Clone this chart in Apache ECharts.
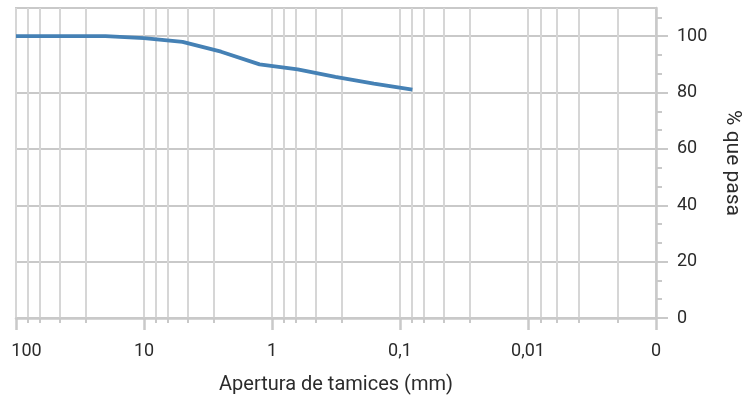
<!DOCTYPE html>
<html>
<head>
<meta charset="utf-8">
<script src="https://cdn.jsdelivr.net/npm/echarts@6/dist/echarts.min.js"></script>
<style>
html,body{margin:0;padding:0;background:#fff;}
#chart{width:742px;height:398px;}
</style>
</head>
<body>
<div id="chart"></div>
<script>
// Sieve sizes (mm) and percent passing
var sieveSizes = [100, 80, 40, 20, 10, 5, 2.5, 1.25, 0.63, 0.32, 0.16, 0.08];
var percentPassing = [100, 100, 100, 100, 99.3, 98, 94.5, 90, 88.2, 85.6, 83.2, 81];

// Major x tick values (mm) and their labels
var xTickValues = [100, 10, 1, 0.1, 0.01, 0.001];
var xTickLabels = ["100", "10", "1", "0,1", "0,01", "0"];

// Minor x grid/tick values (mm)
var xMinorValues = [80.6, 64.9, 45.3, 28.4, 8.06, 6.49, 4.53, 2.84, 0.806, 0.649, 0.453, 0.284,
                    0.0806, 0.0649, 0.0453, 0.0284, 0.008, 0.006, 0.004, 0.002];

// Y ticks
var yMajorValues = [0, 20, 40, 60, 80, 100];
var yMinorValues = [6.67, 13.33, 26.67, 33.33, 46.67, 53.33, 66.67, 73.33, 86.67, 93.33, 106.67];

var xAxisName = "Apertura de tamices (mm)";
var yAxisName = "% que pasa";

function lg(v) { return Math.log10(v); }

var labelMap = {};
xTickValues.forEach(function (v, i) { labelMap[Math.round(lg(v))] = xTickLabels[i]; });
var firstKey = Math.round(lg(xTickValues[0]));

var font = "Roboto";
var textColor = "#2b2b2b";
var gridColor = "#c9c9c9";
var vColor = "#d6d6d6";

var chart = echarts.init(document.getElementById("chart"));
chart.setOption({
  animation: false,
  grid: { left: 16, right: 86, top: 8, bottom: 80, show: true, borderColor: gridColor, borderWidth: 2,
          backgroundColor: "transparent", containLabel: false, outerBoundsMode: "none" },
  xAxis: [
    {
      type: "value", min: lg(xTickValues[xTickValues.length - 1]), max: lg(xTickValues[0]), interval: 1, inverse: true,
      position: "bottom",
      axisLine: { show: true, onZero: false, lineStyle: { color: gridColor, width: 2.5 } },
      axisTick: { show: true, length: 12, lineStyle: { color: gridColor, width: 2.5 } },
      axisLabel: {
        margin: 24, fontSize: 18, color: textColor, fontFamily: font, hideOverlap: false,
        formatter: function (v) {
          var k = Math.round(v);
          return k === firstKey ? "{first|" + labelMap[k] + "}" : labelMap[k];
        },
        rich: { first: { fontSize: 18, color: textColor, fontFamily: font, padding: [0, 0, 0, 21] } }
      },
      splitLine: { show: true, lineStyle: { color: vColor, width: 2 } },
      name: xAxisName, nameLocation: "middle", nameGap: 57,
      nameTextStyle: { fontSize: 20, color: textColor, fontFamily: font }
    },
    {
      type: "value", min: lg(xTickValues[xTickValues.length - 1]), max: lg(xTickValues[0]), inverse: true,
      position: "bottom",
      axisLine: { show: false, onZero: false },
      axisTick: { show: true, length: 5, customValues: xMinorValues.map(lg), lineStyle: { color: gridColor, width: 2 } },
      axisLabel: { show: false },
      splitLine: { show: true, lineStyle: { color: vColor, width: 2 } }
    }
  ],
  yAxis: [
    {
      type: "value", min: 0, max: 110, interval: 20, position: "right",
      axisLine: { show: true, onZero: false, lineStyle: { color: gridColor, width: 2.5 } },
      axisTick: { show: true, length: 12, customValues: yMajorValues, lineStyle: { color: gridColor, width: 2 } },
      axisLabel: { margin: 21, fontSize: 18, color: textColor, fontFamily: font, customValues: yMajorValues },
      splitLine: { show: true, lineStyle: { color: gridColor, width: 2 } },
      name: yAxisName, nameLocation: "middle", nameRotate: -90, nameGap: 66,
      nameTextStyle: { fontSize: 21, color: textColor, fontFamily: font }
    },
    {
      type: "value", min: 0, max: 110, position: "right",
      axisLine: { show: false, onZero: false },
      axisTick: { show: true, length: 6, customValues: yMinorValues, lineStyle: { color: gridColor, width: 2 } },
      axisLabel: { show: false },
      splitLine: { show: false }
    }
  ],
  series: [
    {
      type: "line", xAxisIndex: 0, yAxisIndex: 0,
      data: sieveSizes.map(function (s, i) { return [lg(s), percentPassing[i]]; }),
      symbol: "none",
      lineStyle: { color: "#4581b5", width: 3.8 },
      z: 5
    }
  ]
});
</script>
</body>
</html>
